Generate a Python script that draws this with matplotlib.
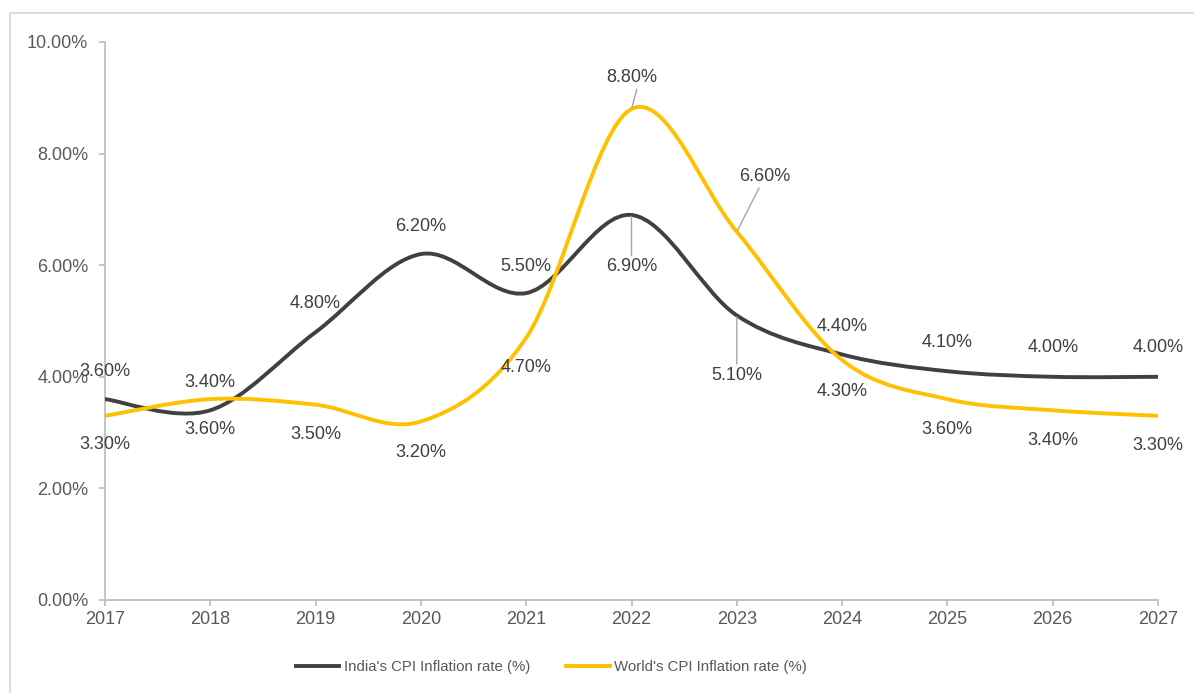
import matplotlib
matplotlib.use("Agg")
import matplotlib.pyplot as plt
from matplotlib.path import Path
from matplotlib.patches import PathPatch, Rectangle
from matplotlib.lines import Line2D
from matplotlib.ticker import FuncFormatter

plt.rcParams['font.family'] = ['Liberation Sans', 'DejaVu Sans']

years = [2017, 2018, 2019, 2020, 2021, 2022, 2023, 2024, 2025, 2026, 2027]
india = [3.6, 3.4, 4.8, 6.2, 5.5, 6.9, 5.1, 4.4, 4.1, 4.0, 4.0]
world = [3.3, 3.6, 3.5, 3.2, 4.7, 8.8, 6.6, 4.3, 3.6, 3.4, 3.3]
india_name = "India's CPI Inflation rate (%)"
world_name = "World's CPI Inflation rate (%)"

# label offsets in pixels (dx, dy) and whether a leader line is drawn
india_off = [(0, 28), (0, 28), (0, 29), (0, 28), (0, 27), (0, -52), (0, -60),
             (0, 28), (0, 29), (0, 29), (0, 29)]
india_lead = [False] * 5 + [True, True] + [False] * 4
world_off = [(0, -29), (0, -30), (0, -30), (0, -31), (0, -30), (0, 31), (28, 55),
             (0, -31), (0, -30), (0, -30), (0, -30)]
world_lead = [False] * 5 + [True, True] + [False] * 4

DARK = '#404040'
GOLD = '#FFC000'
GRID = '#BFBFBF'
TXT = '#595959'


def smooth_path(x, y):
    # Excel-style smoothed line: Catmull-Rom segments as cubic Beziers
    n = len(x)
    verts = [(x[0], y[0])]
    codes = [Path.MOVETO]
    for i in range(n - 1):
        a = i - 1 if i > 0 else i
        d = i + 2 if i + 2 < n else i + 1
        c1 = (x[i] + (x[i + 1] - x[a]) / 6, y[i] + (y[i + 1] - y[a]) / 6)
        c2 = (x[i + 1] - (x[d] - x[i]) / 6, y[i + 1] - (y[d] - y[i]) / 6)
        verts += [c1, c2, (x[i + 1], y[i + 1])]
        codes += [Path.CURVE4] * 3
    return Path(verts, codes)


fig = plt.figure(figsize=(11.94, 6.93), dpi=100)
W, H = 1194, 693
ax = fig.add_axes([105 / W, 1 - 600 / H, (1158 - 105) / W, (600 - 42) / H])

# light frame around the chart
fig.patches.append(Rectangle((10 / W, -0.1), 1.2, 1 - 13 / H + 0.1, transform=fig.transFigure,
                             fill=False, edgecolor='#D9D9D9', lw=1.3, zorder=0))

for ys, col in [(india, DARK), (world, GOLD)]:
    ax.add_patch(PathPatch(smooth_path(years, ys), facecolor='none', edgecolor=col,
                           lw=2.8, capstyle='round', zorder=3))

for ys, offs, leads in [(india, india_off, india_lead), (world, world_off, world_lead)]:
    for x, y, (dx, dy), ld in zip(years, ys, offs, leads):
        props = None
        if ld:
            props = dict(arrowstyle='-', color='#A6A6A6', lw=1, shrinkA=0, shrinkB=1)
            if dy > 0 and dx == 0:
                props['relpos'] = (0.62, 0.0)
        ax.annotate(f"{y:.2f}%", (x, y), xytext=(dx, dy), textcoords='offset pixels',
                    ha='center', va='center', fontsize=13, color=DARK,
                    arrowprops=props, zorder=4)

ax.set_xlim(2017, 2027)
ax.set_ylim(0, 10)
ax.set_xticks(years)
ax.set_yticks([0, 2, 4, 6, 8, 10])
ax.yaxis.set_major_formatter(FuncFormatter(lambda v, p: f"{v:.2f}%"))
for s in ['top', 'right']:
    ax.spines[s].set_visible(False)
for s in ['left', 'bottom']:
    ax.spines[s].set_color(GRID)
    ax.spines[s].set_linewidth(1.3)
ax.tick_params(axis='both', colors=GRID, length=4, width=1.3, labelcolor=TXT, labelsize=13)
ax.tick_params(axis='y', pad=8)
ax.tick_params(axis='x', pad=4)

handles = [Line2D([], [], color=DARK, lw=2.8), Line2D([], [], color=GOLD, lw=2.8)]
leg = fig.legend(handles, [india_name, world_name], loc='center',
                 bbox_to_anchor=(551.5 / W, 1 - 667 / H), ncol=2, frameon=False,
                 fontsize=10.8, handlelength=2.9, handletextpad=0.3, columnspacing=2.4)
for t in leg.get_texts():
    t.set_color(TXT)

fig.savefig("out.png", dpi=100)
